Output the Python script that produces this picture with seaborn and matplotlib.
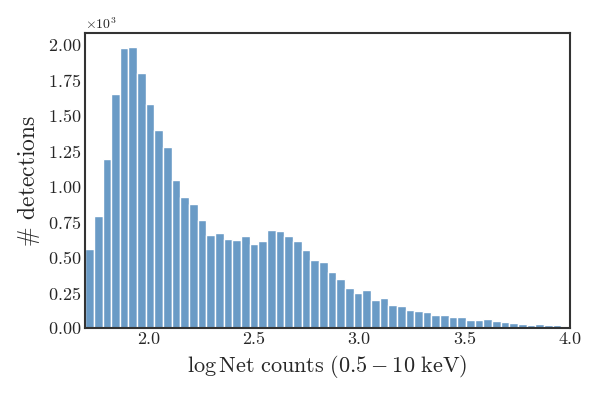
import numpy as np
import pandas as pd
import seaborn as sns
import matplotlib
matplotlib.use("Agg")
import matplotlib.pyplot as plt
from matplotlib.ticker import ScalarFormatter

bin_edges = list(np.linspace(1.7, 4.0, 57))
counts = [556, 787, 1194, 1654, 1974, 1984, 1800, 1578, 1394, 1277,
          1046, 921, 876, 763, 657, 669, 631, 620, 648, 594,
          615, 693, 686, 650, 613, 553, 483, 464, 396, 346,
          285, 247, 269, 198, 212, 160, 155, 127, 120, 111,
          90, 94, 76, 80, 59, 57, 64, 49, 40, 37,
          26, 21, 26, 19, 23, 14]

edges_arr = np.array(bin_edges)
centers = 0.5 * (edges_arr[:-1] + edges_arr[1:])
df = pd.DataFrame({"logcounts": centers, "n": counts})

sns.set_style("white")
plt.rcParams["font.family"] = "serif"
plt.rcParams["font.serif"] = ["cmr10", "DejaVu Serif"]
plt.rcParams["mathtext.fontset"] = "cm"
plt.rcParams["axes.formatter.use_mathtext"] = True
plt.rcParams["axes.unicode_minus"] = False

fig, ax = plt.subplots(figsize=(6, 4), dpi=100)
sns.histplot(data=df, x="logcounts", weights="n", bins=bin_edges,
             color="#6a9bc6", alpha=1.0, edgecolor="white", linewidth=1.0, ax=ax)

ax.set_xlim(1.7, 4.0)
ax.set_xticks([2.0, 2.5, 3.0, 3.5, 4.0])
ax.set_xticklabels(["2.0", "2.5", "3.0", "3.5", "4.0"])
ax.set_yticks(np.arange(0, 2001, 250))
fmt = ScalarFormatter(useMathText=True)
fmt.set_powerlimits((3, 3))
ax.yaxis.set_major_formatter(fmt)
ax.yaxis.get_offset_text().set_fontsize(10)

ax.tick_params(labelsize=13, length=0, pad=3)
ax.set_xlabel(r"$\log \mathrm{Net\ counts}\ (0.5 - 10\ \mathrm{keV})$", fontsize=16)
ax.set_ylabel(r"$\#$ detections", fontsize=17)
for s in ax.spines.values():
    s.set_color("#333333")
    s.set_linewidth(1.5)

fig.subplots_adjust(left=0.142, right=0.95, top=0.918, bottom=0.18)
fig.savefig("out.png", dpi=100)
